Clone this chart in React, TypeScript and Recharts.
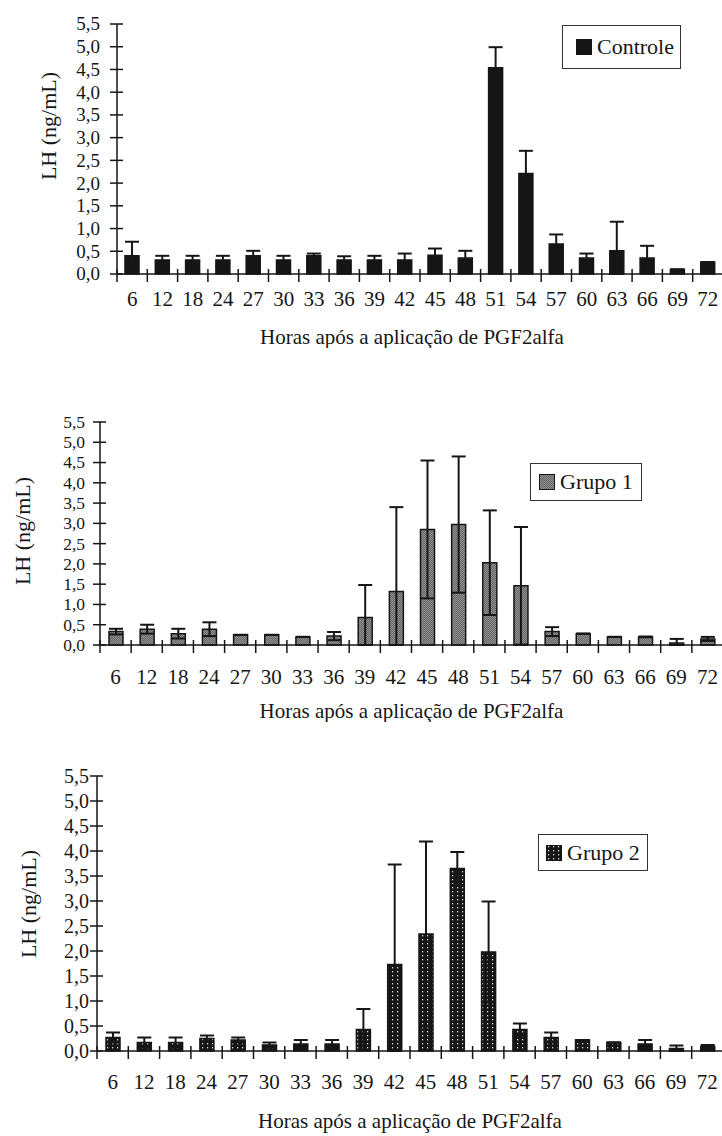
import React from 'react';
import { BarChart, Bar, XAxis, YAxis, ErrorBar, Legend, Label } from 'recharts';

const hours = ['6', '12', '18', '24', '27', '30', '33', '36', '39', '42', '45', '48', '51', '54', '57', '60', '63', '66', '69', '72'];
const yTicks = [0, 0.5, 1, 1.5, 2, 2.5, 3, 3.5, 4, 4.5, 5, 5.5];
const xTitle = 'Horas após a aplicação de PGF2alfa';
const yTitle = 'LH (ng/mL)';

const controleMean = [0.40, 0.31, 0.31, 0.31, 0.40, 0.31, 0.40, 0.31, 0.31, 0.31, 0.41, 0.35, 4.54, 2.21, 0.66, 0.35, 0.51, 0.35, 0.10, 0.26];
const controleErr = [0.31, 0.09, 0.09, 0.09, 0.11, 0.09, 0.05, 0.08, 0.09, 0.14, 0.15, 0.16, 0.45, 0.50, 0.21, 0.10, 0.64, 0.27, 0, 0];

const grupo1Mean = [0.33, 0.39, 0.28, 0.39, 0.25, 0.25, 0.20, 0.22, 0.68, 1.32, 2.85, 2.97, 2.03, 1.46, 0.33, 0.28, 0.20, 0.20, 0.05, 0.15];
const grupo1Err = [0.07, 0.11, 0.12, 0.17, 0, 0, 0, 0.10, 0.80, 2.08, 1.70, 1.68, 1.29, 1.45, 0.11, 0, 0, 0.01, 0.10, 0.05];

const grupo2Mean = [0.27, 0.17, 0.17, 0.25, 0.22, 0.12, 0.14, 0.14, 0.43, 1.73, 2.34, 3.65, 1.98, 0.43, 0.27, 0.22, 0.17, 0.14, 0.05, 0.09];
const grupo2Err = [0.10, 0.10, 0.10, 0.06, 0.05, 0.05, 0.08, 0.08, 0.41, 2.00, 1.85, 0.33, 1.01, 0.12, 0.10, 0, 0, 0.08, 0.06, 0.03];

const FONT = '"Liberation Serif", "Times New Roman", serif';
const INK = '#161616';

function buildData(mean: number[], err: number[]) {
  return hours.map((h, i) => ({ hour: h, value: mean[i], err: [Math.min(err[i], mean[i]), err[i]] }));
}

const fmt = (v: number) => v.toFixed(1).replace('.', ',');

type PanelProps = {
  top: number;
  name: string;
  mean: number[];
  err: number[];
  fill: string;
  marginTop: number;
  plotHeight: number;
  axisX: number;
  tickMargin: number;
  yTickFont: number;
  xAxisHeight: number;
  tickLabelDy: number;
  titleDy: number;
  titleDx: number;
  yLabelX: number;
  yLabelY: number;
  legendBox: { left: number; top: number; width: number; height: number; pad: number };
};

function Panel(p: PanelProps) {
  const chartWidth = 724;
  const rightMargin = 1;
  const height = p.marginTop + p.plotHeight + p.xAxisHeight;
  const band = (chartWidth - rightMargin - p.axisX) / hours.length;
  const data = buildData(p.mean, p.err);

  const renderYTick = (props: any) => {
    const { x, y, payload } = props;
    const ax = x + p.tickMargin;
    return (
      <g>
        <line x1={ax - 7} x2={ax + 6} y1={y} y2={y} stroke={INK} strokeWidth={1.5} />
        <text x={x} y={y + p.yTickFont * 0.34} textAnchor="end" fontSize={p.yTickFont} fontFamily={FONT} fill={INK}>
          {fmt(payload.value)}
        </text>
      </g>
    );
  };

  const renderXTick = (props: any) => {
    const { x, y, payload, index } = props;
    const half = band / 2;
    return (
      <g>
        <line x1={x - half} x2={x - half} y1={y - 5} y2={y + 8} stroke={INK} strokeWidth={1.5} />
        {index === hours.length - 1 && (
          <line x1={x + half} x2={x + half} y1={y - 5} y2={y + 8} stroke={INK} strokeWidth={1.5} />
        )}
        <text x={x} y={y + p.tickLabelDy} textAnchor="middle" fontSize={21} fontFamily={FONT} fill={INK}>
          {payload.value}
        </text>
      </g>
    );
  };

  const lb = p.legendBox;

  return (
    <div style={{ position: 'absolute', left: 0, top: p.top, width: 722, height, overflow: 'hidden' }}>
      <BarChart
        width={chartWidth}
        height={height}
        data={data}
        margin={{ top: p.marginTop, right: rightMargin, left: 0, bottom: 0 }}
        barCategoryGap={0}
      >
        <XAxis
          dataKey="hour"
          interval={0}
          tickSize={0}
          tickMargin={0}
          height={p.xAxisHeight}
          tickLine={false}
          axisLine={{ stroke: INK, strokeWidth: 1.5 }}
          tick={renderXTick}
        >
          <Label
            content={(lp: any) => {
              const vb = lp.viewBox || {};
              return (
                <text
                  x={vb.x + vb.width / 2 + p.titleDx}
                  y={vb.y + p.titleDy}
                  textAnchor="middle"
                  fontSize={21}
                  fontFamily={FONT}
                  fill={INK}
                >
                  {xTitle}
                </text>
              );
            }}
          />
        </XAxis>
        <YAxis
          domain={[0, 5.5]}
          ticks={yTicks}
          interval={0}
          width={p.axisX}
          tickSize={0}
          tickMargin={p.tickMargin}
          tickLine={false}
          axisLine={{ stroke: INK, strokeWidth: 1.5 }}
          tick={renderYTick}
        >
          <Label
            content={() => (
              <text
                x={p.yLabelX}
                y={p.yLabelY}
                transform={`rotate(-90, ${p.yLabelX}, ${p.yLabelY})`}
                textAnchor="middle"
                dominantBaseline="central"
                fontSize={22}
                fontFamily={FONT}
                fill={INK}
              >
                {yTitle}
              </text>
            )}
          />
        </YAxis>
        <Legend
          layout="vertical"
          align="center"
          verticalAlign="middle"
          wrapperStyle={{ left: lb.left, top: lb.top, width: lb.width, height: lb.height }}
          content={() => (
            <div
              style={{
                boxSizing: 'border-box',
                width: lb.width,
                height: lb.height,
                border: '1.5px solid #333',
                background: '#fff',
                display: 'flex',
                alignItems: 'center',
                paddingLeft: lb.pad,
                fontFamily: FONT,
                fontSize: 22,
                color: INK,
                whiteSpace: 'nowrap',
              }}
            >
              <svg width={16} height={16} style={{ marginRight: 5, flex: 'none' }}>
                <rect x={0.5} y={0.5} width={15} height={15} fill={p.fill} stroke={INK} strokeWidth={1} />
              </svg>
              <span>{p.name}</span>
            </div>
          )}
        />
        <Bar dataKey="value" name={p.name} fill={p.fill} stroke={INK} strokeWidth={1.5} barSize={14} isAnimationActive={false}>
          <ErrorBar dataKey="err" width={7} stroke={INK} strokeWidth={2} direction="y" isAnimationActive={false} />
        </Bar>
      </BarChart>
    </div>
  );
}

export default function App() {
  return (
    <div style={{ position: 'absolute', left: 0, top: 0, width: 722, height: 1136, overflow: 'hidden', background: '#fff' }}>
      <svg width={0} height={0} style={{ position: 'absolute' }}>
        <defs>
          <pattern id="patGrupo1" width={2} height={2} patternUnits="userSpaceOnUse">
            <rect x={0} y={0} width={2} height={2} fill="#686868" />
            <rect x={0} y={0} width={1} height={1} fill="#8e8e8e" />
            <rect x={1} y={1} width={1} height={1} fill="#8e8e8e" />
          </pattern>
          <pattern id="patGrupo2" width={5} height={4} patternUnits="userSpaceOnUse">
            <rect x={0} y={0} width={5} height={4} fill="#151515" />
            <rect x={2} y={1} width={1.2} height={1.4} fill="#d8d8d8" />
          </pattern>
        </defs>
      </svg>
      <Panel
        top={0}
        name="Controle"
        mean={controleMean}
        err={controleErr}
        fill="#151515"
        marginTop={24}
        plotHeight={250}
        axisX={117}
        tickMargin={17}
        yTickFont={19}
        xAxisHeight={74}
        tickLabelDy={32}
        titleDy={70}
        titleDx={-8}
        yLabelX={48}
        yLabelY={126}
        legendBox={{ left: 562, top: 25, width: 119, height: 44, pad: 13 }}
      />
      <Panel
        top={400}
        name="Grupo 1"
        mean={grupo1Mean}
        err={grupo1Err}
        fill="url(#patGrupo1)"
        marginTop={22}
        plotHeight={223}
        axisX={100}
        tickMargin={15}
        yTickFont={17.5}
        xAxisHeight={77}
        tickLabelDy={39}
        titleDy={73}
        titleDx={0}
        yLabelX={22}
        yLabelY={131}
        legendBox={{ left: 530, top: 63, width: 112, height: 38, pad: 8 }}
      />
      <Panel
        top={750}
        name="Grupo 2"
        mean={grupo2Mean}
        err={grupo2Err}
        fill="url(#patGrupo2)"
        marginTop={26}
        plotHeight={275}
        axisX={97}
        tickMargin={8}
        yTickFont={20}
        xAxisHeight={84}
        tickLabelDy={38}
        titleDy={77}
        titleDx={0}
        yLabelX={28}
        yLabelY={154}
        legendBox={{ left: 538, top: 84, width: 110, height: 37, pad: 7 }}
      />
    </div>
  );
}
